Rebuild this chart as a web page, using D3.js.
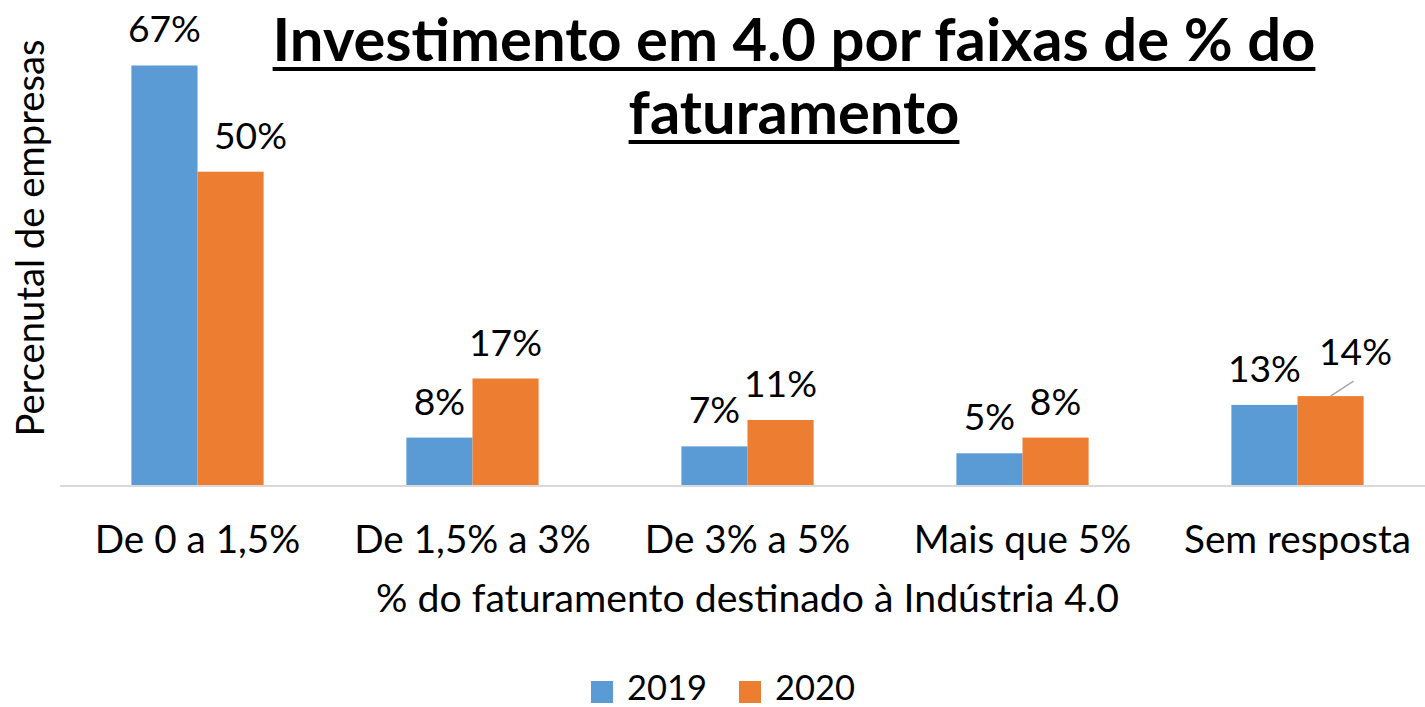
<!DOCTYPE html>
<html><head><meta charset="utf-8">
<script src="https://cdn.jsdelivr.net/npm/d3@7"></script>
<style>body{margin:0;background:#fff;} svg{display:block;}</style>
</head><body>
<svg id="chart" width="1425" height="707"></svg>
<script>
const categories = ["De 0 a 1,5%", "De 1,5% a 3%", "De 3% a 5%", "Mais que 5%", "Sem resposta"];
const years = ["2019", "2020"];
// bar heights (labels show rounded values)
const values2019 = [66.9, 7.7, 6.3, 5.2, 12.9];
const values2020 = [50, 17.1, 10.5, 7.7, 14.3];
const labels2019 = ["67%", "8%", "7%", "5%", "13%"];
const labels2020 = ["50%", "17%", "11%", "8%", "14%"];
const colors = ["#5B9BD5", "#ED7D31"];
const titleLines = ["Investimento em 4.0 por faixas de % do", "faturamento"];
const xTitle = "% do faturamento destinado à Indústria 4.0";
const yTitle = "Percenutal de empresas";

const FONT = "Lato, 'Open Sans', sans-serif";
const svg = d3.select("#chart");
const W = 1425, H = 707;
const plot = {left: 60, right: 1435, top: 46, bottom: 486};

const x0 = d3.scaleBand().domain(categories).range([plot.left, plot.right]).padding(0);
const x1 = d3.scaleBand().domain(years).range([0, x0.bandwidth()]).paddingInner(0).paddingOuter(1.08);
const y = d3.scaleLinear().domain([0, 70]).range([plot.bottom, plot.top]);
const series = [values2019, values2020];
const labels = [labels2019, labels2020];

function fitSize(text, target, weight) {
  const t = svg.append("text").attr("font-family", FONT).attr("font-weight", weight || "normal")
    .attr("font-size", 100).text(text);
  const w = t.node().getComputedTextLength();
  t.remove();
  return 100 * target / w;
}

// bars
const groups = svg.append("g").selectAll("g").data(categories).join("g")
  .attr("transform", d => `translate(${x0(d)},0)`);
groups.selectAll("rect").data((c, i) => years.map((yr, j) => ({yr, v: series[j][i], j})))
  .join("rect")
  .attr("x", d => x1(d.yr)).attr("width", x1.bandwidth())
  .attr("y", d => y(d.v)).attr("height", d => y(0) - y(d.v))
  .attr("fill", d => colors[d.j]);

// axis line
const xAxis = d3.axisBottom(x0).tickSize(0).tickFormat("");
const ax = svg.append("g").attr("transform", `translate(0,${plot.bottom})`).call(xAxis);
ax.select(".domain").attr("stroke", "#d9d9d9").attr("stroke-width", 2)
  .attr("d", `M${plot.left},0H${W}`);

// data labels
const labelSize = fitSize("67%", 73);
const shifts = {"0-1": [20, 0], "4-1": [25, -8]};
categories.forEach((c, i) => {
  years.forEach((yr, j) => {
    const v = series[j][i];
    const s = shifts[i + "-" + j] || [0, 0];
    const cx = x0(c) + x1(yr) + x1.bandwidth() / 2;
    svg.append("text").attr("x", cx + s[0]).attr("y", y(v) - 23 + s[1])
      .attr("text-anchor", "middle").attr("font-family", FONT).attr("font-size", labelSize)
      .attr("fill", "#000").text(labels[j][i]);
    if (i === 4 && j === 1) {
      svg.append("line").attr("x1", cx).attr("y1", y(v)).attr("x2", cx + 23).attr("y2", y(v) - 15)
        .attr("stroke", "#a6a6a6").attr("stroke-width", 1.5);
    }
  });
});

// category labels
const catSize = fitSize("Sem resposta", 227);
svg.append("g").selectAll("text").data(categories).join("text")
  .attr("x", d => x0(d) + x0.bandwidth() / 2).attr("y", 553)
  .attr("text-anchor", "middle").attr("font-family", FONT).attr("font-size", catSize)
  .text(d => d);

// axis titles
const xtSize = fitSize(xTitle, 743);
svg.append("text").attr("x", (plot.left + plot.right) / 2).attr("y", 612)
  .attr("text-anchor", "middle").attr("font-family", FONT).attr("font-size", xtSize).text(xTitle);
const ytSize = fitSize(yTitle, 397);
svg.append("text").attr("transform", `translate(44,238) rotate(-90)`)
  .attr("text-anchor", "middle").attr("font-family", FONT).attr("font-size", ytSize).text(yTitle);

// title
const tSize = fitSize(titleLines[0], 1043, "bold");
titleLines.forEach((line, k) => {
  const by = k === 0 ? 61 : 134;
  const t = svg.append("text").attr("x", 794).attr("y", by).attr("text-anchor", "middle")
    .attr("font-family", FONT).attr("font-weight", "bold").attr("font-size", tSize).text(line);
  const w = t.node().getComputedTextLength();
  svg.append("rect").attr("x", 794 - w / 2).attr("y", by + 6).attr("width", w).attr("height", 4).attr("fill", "#000");
});

// legend
const legSize = fitSize("2019", 80);
const legX = [591, 739];
years.forEach((yr, j) => {
  svg.append("rect").attr("x", legX[j]).attr("y", 681).attr("width", 22).attr("height", 22).attr("fill", colors[j]);
  svg.append("text").attr("x", legX[j] + 36).attr("y", 700).attr("font-family", FONT)
    .attr("font-size", legSize).text(yr);
});
</script>
</body></html>
